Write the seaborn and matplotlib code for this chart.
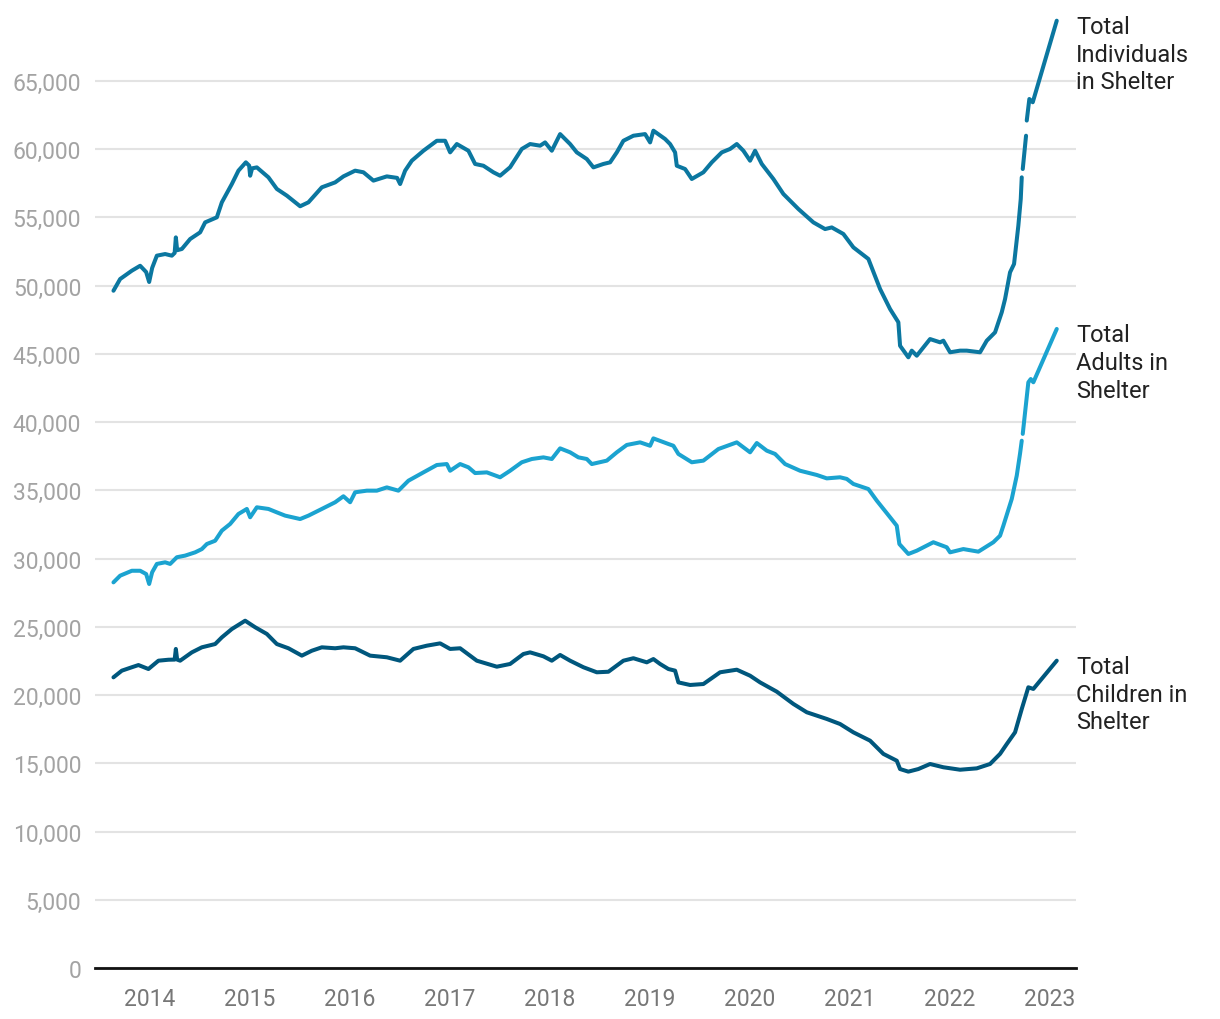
import matplotlib.pyplot as plt
import numpy as np
import pandas as pd
import seaborn as sns
from matplotlib.ticker import FuncFormatter

# Decimal years and counts (NaN = missing day in source data)
ind_year = [2013.633, 2013.700, 2013.817, 2013.900, 2013.960, 2013.990, 2014.020, 2014.067,
            2014.150, 2014.217, 2014.245, 2014.257, 2014.270, 2014.317, 2014.400, 2014.500,
            2014.550, 2014.667, 2014.717, 2014.817, 2014.883, 2014.957, 2014.990, 2015.000,
            2015.020, 2015.067, 2015.183, 2015.267, 2015.367, 2015.500, 2015.583, 2015.717,
            2015.850, 2015.933, 2016.050, 2016.133, 2016.233, 2016.367, 2016.470, 2016.500,
            2016.550, 2016.617, 2016.733, 2016.867, 2016.950, 2017.000, 2017.067, 2017.183,
            2017.250, 2017.333, 2017.433, 2017.500, 2017.600, 2017.717, 2017.800, 2017.900,
            2017.950, 2018.017, 2018.100, 2018.200, 2018.267, 2018.367, 2018.433, 2018.533,
            2018.600, 2018.667, 2018.733, 2018.833, 2018.950, 2019.000, 2019.033, 2019.150,
            2019.200, 2019.250, 2019.267, 2019.350, 2019.417, 2019.533, 2019.617, 2019.717,
            2019.800, 2019.867, 2019.933, 2020.000, 2020.050, 2020.117, 2020.233, 2020.333,
            2020.483, 2020.633, 2020.750, 2020.817, 2020.933, 2021.033, 2021.183, 2021.300,
            2021.400, 2021.483, 2021.500, 2021.583, 2021.617, 2021.667, 2021.800, 2021.900,
            2021.933, 2022.000, 2022.100, 2022.167, 2022.300, 2022.367, 2022.450, 2022.517,
            2022.550, 2022.600, 2022.640, 2022.683, 2022.707, 2022.717, 2022.722, 2022.727,
            2022.760, 2022.763, 2022.767, 2022.793, 2022.827, 2023.067]
ind_total = [49630, 50490, 51100, 51460, 51000, 50270, 51300, 52200,
             52320, 52200, 52400, 53540, 52600, 52690, 53420, 53910,
             54640, 55010, 56110, 57450, 58430, 59040, 58800, 58060,
             58600, 58670, 57940, 57090, 56600, 55820, 56110, 57210,
             57570, 58010, 58430, 58310, 57700, 58010, 57900, 57450,
             58430, 59160, 59890, 60620, 60620, 59770, 60380, 59890,
             58920, 58790, 58310, 58060, 58680, 60020, 60380, 60260,
             60500, 59890, 61110, 60380, 59770, 59280, 58670, 58920,
             59040, 59770, 60620, 60990, 61110, 60500, 61360, 60750,
             60380, 59770, 58790, 58550, 57820, 58310, 59040, 59770,
             60020, 60380, 59890, 59160, 59890, 58920, 57820, 56720,
             55620, 54640, 54150, 54270, 53790, 52810, 51960, 49760,
             48290, 47320, 45600, 44750, 45240, 44870, 46090, 45850,
             45970, 45120, 45240, 45240, 45120, 45970, 46580, 48050,
             49020, 50980, 51590, 54400, 56350, 57940, np.nan, 58550,
             60990, np.nan, 62100, 63680, 63440, 69420]

adult_year = [2013.633, 2013.700, 2013.817, 2013.900, 2013.960, 2013.990, 2014.020, 2014.067,
              2014.150, 2014.200, 2014.267, 2014.350, 2014.450, 2014.517, 2014.567, 2014.650,
              2014.717, 2014.800, 2014.883, 2014.967, 2015.000, 2015.067, 2015.183, 2015.267,
              2015.350, 2015.500, 2015.583, 2015.717, 2015.850, 2015.933, 2016.000, 2016.050,
              2016.167, 2016.267, 2016.367, 2016.483, 2016.583, 2016.733, 2016.867, 2016.967,
              2017.000, 2017.100, 2017.183, 2017.250, 2017.367, 2017.500, 2017.600, 2017.717,
              2017.817, 2017.933, 2018.017, 2018.100, 2018.200, 2018.283, 2018.367, 2018.417,
              2018.567, 2018.667, 2018.767, 2018.900, 2019.000, 2019.033, 2019.183, 2019.233,
              2019.283, 2019.417, 2019.533, 2019.683, 2019.867, 2020.000, 2020.067, 2020.167,
              2020.250, 2020.350, 2020.500, 2020.667, 2020.767, 2020.900, 2020.967, 2021.033,
              2021.183, 2021.267, 2021.400, 2021.467, 2021.493, 2021.583, 2021.667, 2021.833,
              2021.967, 2022.000, 2022.133, 2022.283, 2022.433, 2022.500, 2022.533, 2022.617,
              2022.667, 2022.700, 2022.717, 2022.722, 2022.727, 2022.783, 2022.807, 2022.833,
              2023.067]
adult_total = [28260, 28750, 29110, 29110, 28870, 28140, 29000, 29610,
               29730, 29610, 30100, 30220, 30460, 30700, 31070, 31310,
               32050, 32540, 33270, 33640, 33030, 33760, 33640, 33390,
               33150, 32900, 33150, 33640, 34130, 34570, 34130, 34860,
               34980, 34980, 35220, 34980, 35710, 36320, 36860, 36930,
               36440, 36930, 36690, 36270, 36320, 35960, 36440, 37060,
               37300, 37420, 37300, 38080, 37790, 37420, 37300, 36930,
               37180, 37790, 38330, 38520, 38270, 38810, 38400, 38270,
               37670, 37060, 37180, 38030, 38520, 37790, 38470, 37910,
               37670, 36930, 36440, 36130, 35880, 35960, 35840, 35470,
               35100, 34250, 33030, 32410, 31070, 30340, 30580, 31200,
               30830, 30460, 30700, 30510, 31200, 31680, 32410, 34370,
               36080, 37700, 38640, np.nan, 39140, 42920, 43160, 42920,
               46830]

child_year = [2013.633, 2013.717, 2013.817, 2013.883, 2013.983, 2014.083, 2014.183, 2014.245,
              2014.257, 2014.270, 2014.300, 2014.417, 2014.517, 2014.650, 2014.717, 2014.817,
              2014.950, 2015.050, 2015.167, 2015.267, 2015.383, 2015.517, 2015.617, 2015.717,
              2015.850, 2015.933, 2016.050, 2016.200, 2016.367, 2016.500, 2016.633, 2016.767,
              2016.900, 2017.000, 2017.100, 2017.267, 2017.467, 2017.600, 2017.733, 2017.800,
              2017.933, 2018.017, 2018.100, 2018.200, 2018.333, 2018.467, 2018.583, 2018.733,
              2018.833, 2018.967, 2019.033, 2019.100, 2019.183, 2019.250, 2019.283, 2019.400,
              2019.533, 2019.700, 2019.867, 2020.000, 2020.100, 2020.267, 2020.433, 2020.567,
              2020.767, 2020.900, 2021.033, 2021.200, 2021.333, 2021.467, 2021.500, 2021.583,
              2021.683, 2021.800, 2021.933, 2022.100, 2022.267, 2022.400, 2022.500, 2022.567,
              2022.650, 2022.717, 2022.783, 2022.833, 2023.067]
child_total = [21300, 21790, 22040, 22200, 21910, 22520, 22590, 22600,
               23380, 22600, 22520, 23130, 23500, 23740, 24230, 24840,
               25450, 24970, 24480, 23740, 23430, 22890, 23250, 23500,
               23430, 23500, 23430, 22890, 22770, 22520, 23380, 23620,
               23790, 23380, 23430, 22520, 22080, 22280, 23010, 23130,
               22840, 22520, 22940, 22520, 22040, 21670, 21710, 22520,
               22700, 22400, 22640, 22280, 21910, 21790, 20930, 20740,
               20810, 21670, 21860, 21420, 20930, 20250, 19350, 18740,
               18250, 17880, 17270, 16660, 15690, 15190, 14580, 14390,
               14580, 14950, 14710, 14530, 14630, 14950, 15690, 16410,
               17270, 18980, 20570, 20450, 22520]

series_labels = ["Total\nIndividuals\nin Shelter", "Total\nAdults in\nShelter",
                 "Total\nChildren in\nShelter"]
series_colors = ["#0b77a0", "#1ba3d0", "#00577d"]
year_ticks = [2014, 2015, 2016, 2017, 2018, 2019, 2020, 2021, 2022, 2023]

sns.set_theme(style="white")
plt.rcParams["font.family"] = ["Roboto", "DejaVu Sans"]


def to_frame(years, values):
    df = pd.DataFrame({"year": years, "count": values})
    # split the line wherever a day is missing
    df["seg"] = df["count"].isna().cumsum()
    return df.dropna()


fig = plt.figure(figsize=(12.2, 10.2), dpi=100)
ax = fig.add_axes([0.078, 0.05, 0.804, 0.9365])

all_series = [(ind_year, ind_total), (adult_year, adult_total), (child_year, child_total)]
for (years, values), label, color in zip(all_series, series_labels, series_colors):
    df = to_frame(years, values)
    sns.lineplot(data=df, x="year", y="count", units="seg", estimator=None,
                 color=color, lw=2.9, solid_capstyle="round", ax=ax)
    ax.annotate(label, xy=(1.0, values[-1]), xycoords=("axes fraction", "data"),
                xytext=(0, 4), textcoords="offset points", ha="left", va="top",
                fontsize=17, linespacing=1.26, color="#222222", annotation_clip=False)

ax.set_xlim(2013.45, 2023.26)
ax.set_ylim(0, 70000)
ax.set_yticks(np.arange(0, 65001, 5000))
ax.yaxis.set_major_formatter(FuncFormatter(lambda v, _: f"{v:,.0f}"))
ax.set_xticks(year_ticks)
ax.set_xticklabels([str(y) for y in year_ticks])
ax.set_xlabel("")
ax.set_ylabel("")

ax.yaxis.grid(True, color="#e3e3e3", lw=1.5)
ax.xaxis.grid(False)
ax.set_axisbelow(True)
for side in ["left", "top", "right"]:
    ax.spines[side].set_visible(False)
ax.spines["bottom"].set_color("#111111")
ax.spines["bottom"].set_linewidth(2)

ax.tick_params(axis="y", length=0, pad=10, labelsize=16.5, labelcolor="#a3a3a3")
ax.tick_params(axis="x", length=0, pad=14, labelsize=16.5, labelcolor="#777777")

fig.savefig("out.png", dpi=100)
